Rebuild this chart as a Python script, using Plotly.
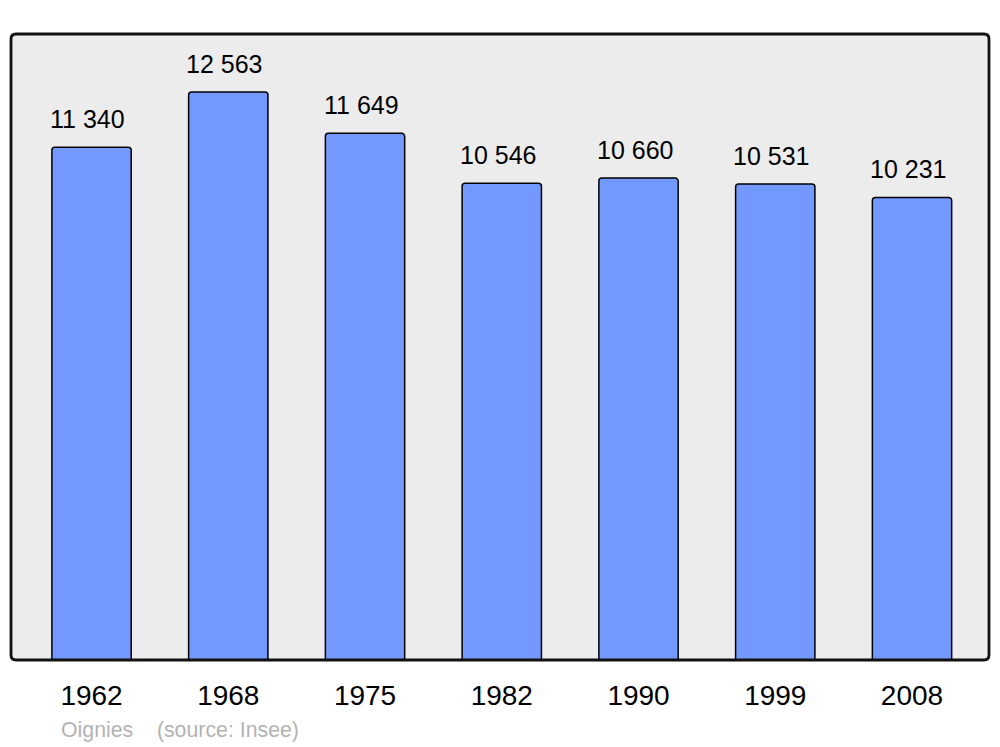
import plotly.graph_objects as go

years = ["1962", "1968", "1975", "1982", "1990", "1999", "2008"]
population = [11340, 12563, 11649, 10546, 10660, 10531, 10231]
value_labels = ["11 340", "12 563", "11 649", "10 546", "10 660", "10 531", "10 231"]
positions = list(range(len(years)))

FONT = "Liberation Sans, Arial, sans-serif"

fig = go.Figure()
fig.add_trace(go.Bar(
    x=positions, y=population, width=0.58,
    marker=dict(color="#7399ff", line=dict(color="#000000", width=1.5), cornerradius=3),
    hoverinfo="skip",
))

for p, v, t in zip(positions, population, value_labels):
    fig.add_annotation(x=p, y=v, xref="x", yref="y", text=t, showarrow=False,
                       yanchor="bottom", yshift=12, xshift=-4,
                       font=dict(family=FONT, size=25, color="#000000"))

fig.add_annotation(x=0.0491, y=-0.112, xref="paper", yref="paper",
                   text="Oignies&nbsp;&nbsp;&nbsp;&nbsp;(source: Insee)",
                   showarrow=False, xanchor="left", yanchor="middle",
                   font=dict(family=FONT, size=21.3, color="#b3b3b3"))

# rounded frame
rx, ry = 5 / 978, 5 / 626
path = (f"M {rx},0 L {1-rx},0 Q 1,0 1,{ry} L 1,{1-ry} Q 1,1 {1-rx},1 "
        f"L {rx},1 Q 0,1 0,{1-ry} L 0,{ry} Q 0,0 {rx},0 Z")
fig.add_shape(type="path", path=path, xref="paper", yref="paper",
              line=dict(color="#111111", width=2.8), layer="above")

fig.update_layout(
    width=1000, height=747,
    margin=dict(l=11, r=11, t=34, b=87),
    paper_bgcolor="#ffffff", plot_bgcolor="#ececec",
    showlegend=False,
    xaxis=dict(range=[-0.589, 6.563], tickvals=positions, ticktext=years,
               showgrid=False, zeroline=False, ticks="", ticklabelstandoff=16,
               tickfont=dict(family=FONT, size=28, color="#000000")),
    yaxis=dict(range=[0, 13846], showgrid=False, zeroline=False,
               showticklabels=False, ticks=""),
)

fig.write_html("out.html", config={"displayModeBar": False, "staticPlot": True},
               post_script="document.body.style.margin='0';document.body.style.padding='0';document.body.style.overflow='hidden';")
